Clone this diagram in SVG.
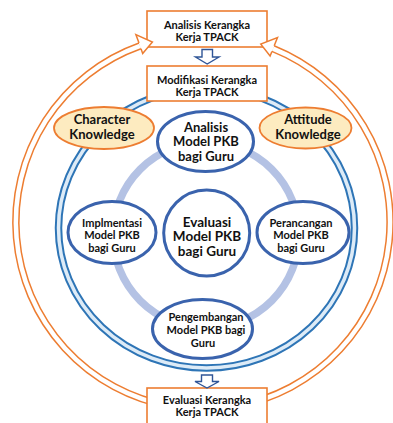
<svg xmlns="http://www.w3.org/2000/svg" width="393" height="423" viewBox="0 0 393 423">
<style>
.t{font-family:Lato,"Liberation Sans",sans-serif;font-weight:bold;fill:#111;text-anchor:middle}
.bx{fill:#fff;stroke:#ED7D31;stroke-width:1.6}
.nd{fill:#fff;stroke:#3A63AD;stroke-width:3}
.kn{fill:#FDEBC0;stroke:#ED7D31;stroke-width:1.8}
.band-o{fill:none;stroke:#ED7D31;stroke-width:7.5}
.band-i{fill:none;stroke:#fff;stroke-width:4.5}
.head{fill:#fff;stroke:#ED7D31;stroke-width:1.5;stroke-linejoin:miter}
.dn{fill:#fff;stroke:#2F5597;stroke-width:1.4;stroke-linejoin:miter}
</style>
<rect width="393" height="423" fill="#fff"/>
<g id="connectors">
  <path class="band-o" d="M140,45.9 A187,187 0 0 0 170.5,406.2"/>
  <path class="band-i" d="M140,45.9 A187,187 0 0 0 170.5,406.2"/>
  <path class="band-o" d="M273,48.6 A187,187 0 0 1 235.5,406.2"/>
  <path class="band-i" d="M273,48.6 A187,187 0 0 1 235.5,406.2"/>
  <ellipse cx="206.5" cy="228" rx="148" ry="140" fill="none" stroke="#2E75B6" stroke-width="7.5"/>
  <ellipse cx="206.5" cy="228" rx="148" ry="140" fill="none" stroke="#DDEBF7" stroke-width="3.5"/>
  <circle cx="206" cy="235" r="93" fill="none" stroke="#B4C2E4" stroke-width="7.5"/>
</g>
<g id="node-analisis-model"><ellipse class="nd" cx="205.5" cy="141.5" rx="48" ry="30"/>
  <text class="t" font-size="13" x="206" y="131.5">Analisis</text>
  <text class="t" font-size="13" x="206" y="146">Model PKB</text>
  <text class="t" font-size="13" x="206" y="160.5">bagi Guru</text></g>
<g id="node-evaluasi-model"><circle class="nd" cx="206.7" cy="233" r="43"/>
  <text class="t" font-size="13.5" x="207" y="226.5">Evaluasi</text>
  <text class="t" font-size="13.5" x="207" y="241">Model PKB</text>
  <text class="t" font-size="13.5" x="207" y="255.5">bagi Guru</text></g>
<g id="node-implementasi"><ellipse class="nd" cx="112" cy="232.5" rx="44" ry="31"/>
  <text class="t" font-size="11" x="112" y="226.5">Implmentasi</text>
  <text class="t" font-size="11" x="112" y="239">Model PKB</text>
  <text class="t" font-size="11" x="112" y="251.5">bagi Guru</text></g>
<g id="node-perancangan"><ellipse class="nd" cx="303" cy="232.5" rx="46" ry="31"/>
  <text class="t" font-size="11" x="301" y="226.5">Perancangan</text>
  <text class="t" font-size="11" x="301" y="239">Model PKB</text>
  <text class="t" font-size="11" x="301" y="251.5">bagi Guru</text></g>
<g id="node-pengembangan"><ellipse class="nd" cx="202.5" cy="329" rx="50" ry="29.5"/>
  <text class="t" font-size="11" x="206" y="320.5">Pengembangan</text>
  <text class="t" font-size="11" x="206" y="333.5">Model PKB bagi</text>
  <text class="t" font-size="11" x="203" y="346.5">Guru</text></g>
<g id="node-character"><ellipse class="kn" cx="104" cy="128" rx="50" ry="21"/>
  <text class="t" font-size="13" x="102" y="123.5">Character</text>
  <text class="t" font-size="13" x="102" y="138.5">Knowledge</text></g>
<g id="node-attitude"><ellipse class="kn" cx="305.5" cy="128" rx="46" ry="20.5"/>
  <text class="t" font-size="13" x="308" y="123.5">Attitude</text>
  <text class="t" font-size="13" x="308" y="138.5">Knowledge</text></g>
<g id="node-analisis-kerangka"><rect class="bx" x="147" y="11" width="120" height="36"/>
  <text class="t" font-size="11" x="207" y="29">Analisis Kerangka</text>
  <text class="t" font-size="11" x="207" y="40.5">Kerja TPACK</text></g>
<g id="node-modifikasi"><rect class="bx" x="147" y="66" width="120" height="35"/>
  <text class="t" font-size="11" x="207" y="84">Modifikasi Kerangka</text>
  <text class="t" font-size="11" x="207" y="95.5">Kerja TPACK</text></g>
<g id="node-evaluasi-kerangka"><rect class="bx" x="147" y="388" width="120" height="40"/>
  <text class="t" font-size="11" x="207" y="404">Evaluasi Kerangka</text>
  <text class="t" font-size="11" x="207" y="416">Kerja TPACK</text></g>
<g id="arrowheads">
  <path class="head" d="M139,43.1 L135.9,34.6 L152.4,42 L142.7,53.5 L141,48.8"/>
  <path class="head" d="M274.2,45.8 L277.5,37.5 L260.8,44.1 L270.1,56 L271.9,51.4"/>
  <path class="dn" d="M202,49.5 H212.5 V57 H219 L207.2,64 L195.5,57 H202 Z"/>
  <path class="dn" d="M201.5,375 H212.5 V381.5 H219 L207,388 L195,381.5 H201.5 Z"/>
</g>
</svg>
